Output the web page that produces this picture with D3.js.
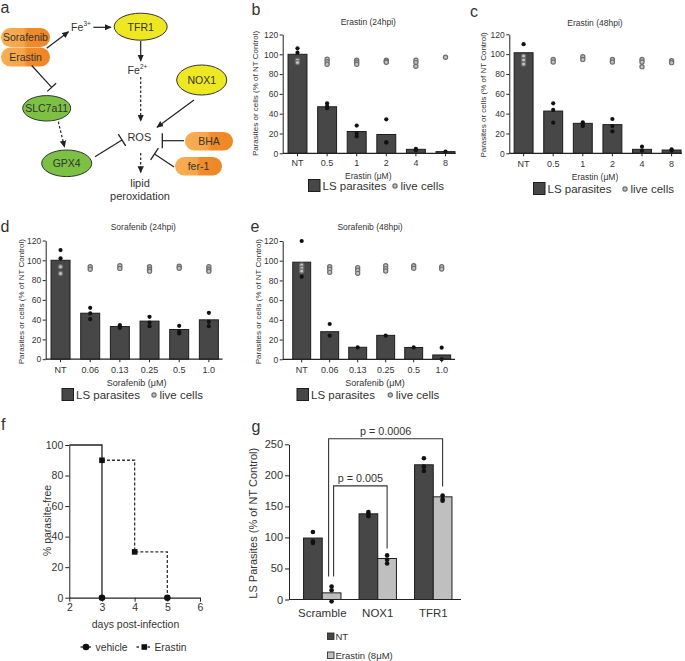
<!DOCTYPE html>
<html><head><meta charset="utf-8">
<script src="https://cdn.jsdelivr.net/npm/d3@7"></script>
<style>
html,body{margin:0;padding:0;background:#fff;}
svg{display:block;}
text{font-family:"Liberation Sans",Arial,Helvetica,sans-serif;fill:#333;}
</style></head><body>
<svg id="fig" width="685" height="661"></svg>
<script>
// ================= DATA =================
const erastinDoses = ["NT","0.5","1","2","4","8"];
const sorafenibDoses = ["NT","0.06","0.13","0.25","0.5","1.0"];
const yTicks120 = [0,20,40,60,80,100,120];

const erastin24Mean = [100,47,22,19,4,1.7];
const erastin24Parasites = [[106,101.6],[50.5,47.8,45.5],[28,20,17],[34.3,11,11],[4.6,3],[1.7]];
const erastin24Live = [[94,91.6],[95,92.5,90],[94,92,90],[94,92.5,92],[94,91.6,88],[97]];

const erastin48Mean = [101.4,42.6,30.2,28.9,4,3.3];
const erastin48Parasites = [[110],[50.4,43.7,30.9],[31.2,29.5,27.5],[34.6,27.5,22.2],[6.7,2.6],[4,2.6]];
const erastin48Live = [[98,94,90],[94.7,92],[97.4,94.7],[94.7,92],[94.7,92,87.4],[93.4,91.4]];

const sorafenib24Mean = [100,46.5,33,38.5,30,39.8];
const sorafenib24Parasites = [[110.3,101.9],[51.9,46.3,40.5],[34.4,31.7],[42.8,37.1,33.4],[33.7,27.6,26],[46.9,37.8,33.4]];
const sorafenib24Live = [[93.4,86.7],[93.4,91],[94.4,91.8],[93.4,91,89],[94,92],[93.4,91,89]];

const sorafenib48Mean = [98.5,28,12.2,24.3,12,4.4];
const sorafenib48Parasites = [[120,83.8],[35.8,24],[12],[24],[12],[11.8,0]];
const sorafenib48Live = [[95.6,92.3,89.5],[94,91.3,88.2],[93,90.3,87.2],[95,92,89.6],[95,92.3],[94,91.5]];

// panel f (survival)
const survivalXTicks = [2,3,4,5,6];
const survivalYTicks = [0,20,40,60,80,100];
const vehicleCurve = [[2,100],[3,100],[3,0]];
const vehicleMarks = [[3,0],[5,0]];
const erastinCurve = [[3,90],[4,90],[4,30],[5,30],[5,0]];
const erastinMarks = [[3,90],[4,30]];

// panel g (knockdown)
const knockdowns = ["Scramble","NOX1","TFR1"];
const gTicks = [0,50,100,150,200,250];
const ntMean = [99,138,217];
const ntPoints = [[108.7,93.6,91],[141,138,134],[227.5,214,207]];
const erMean = [10.7,66,165.4];
const erPoints = [[21,15,-3],[71,64,58],[167.5,162,159]];
const pLabels = ["p = 0.005","p = 0.0006"];

// ================= DRAW =================
const svg = d3.select("#fig");
const FONT = '"Liberation Sans",Arial,Helvetica,sans-serif';
const INK = "#222";
const DARK = "#474747", LIGHT = "#bfbfbf";
const LIVE_FILL = "#c2c2c2", LIVE_STROKE = "#6e6e6e";

function styleAxis(sel, fs) {
  sel.attr("font-family", FONT).attr("font-size", fs);
  sel.selectAll("path.domain").attr("stroke", INK).attr("stroke-width", 1);
  sel.selectAll(".tick line").attr("stroke", INK).attr("stroke-width", 1);
  sel.selectAll(".tick text").attr("fill", "#333");
}
function txt(x, y, s, fs, anchor) {
  return svg.append("text").attr("x", x).attr("y", y).attr("font-size", fs)
    .attr("text-anchor", anchor || "start").text(s);
}

// Panel letters
[["a",0.5,13],["b",251.5,15],["c",470,17],["d",0.5,232],["e",250.5,232],["f",1,430],["g",251.5,432]]
  .forEach(([l,x,y]) => txt(x, y, l, 16).attr("fill","#222"));

// ----- bar panels b-e -----
function barPanel(c) {
  const g = svg.append("g");
  const x = d3.scaleBand().domain(c.cats).range(c.xr).paddingInner(0.36).paddingOuter(0.18);
  const y = d3.scaleLinear().domain([0,120]).range(c.yr);
  const cx = i => x(c.cats[i]) + x.bandwidth()/2;
  g.selectAll("rect.bar").data(c.mean).join("rect").attr("class","bar")
    .attr("x",(d,i)=>x(c.cats[i])).attr("width",x.bandwidth())
    .attr("y",d=>y(d)).attr("height",d=>y(0)-y(d))
    .attr("fill",DARK).attr("stroke","#1e1e1e").attr("stroke-width",1);
  const live = c.live.flatMap((a,i)=>a.map(v=>({i,v})));
  const par = c.par.flatMap((a,i)=>a.map(v=>({i,v})));
  g.selectAll("circle.par").data(par).join("circle").attr("class","par")
    .attr("cx",d=>cx(d.i)).attr("cy",d=>y(d.v)).attr("r",2.1).attr("fill","#111");
  g.selectAll("circle.live").data(live).join("circle").attr("class","live")
    .attr("cx",d=>cx(d.i)).attr("cy",d=>y(d.v)).attr("r",2.1)
    .attr("fill",LIVE_FILL).attr("stroke",LIVE_STROKE).attr("stroke-width",1.2);
  // y axis
  const ya = g.append("g").attr("transform",`translate(${c.axisX},0)`)
    .call(d3.axisLeft(y).tickValues(yTicks120).tickSize(3).tickSizeOuter(0).tickPadding(1.5));
  styleAxis(ya, 8.5);
  // x axis
  const xa = g.append("g").attr("transform",`translate(0,${y(0)})`)
    .call(d3.axisBottom(x).tickSize(3).tickSizeOuter(0).tickPadding(c.xpad));
  styleAxis(xa, 9);
  xa.select("path.domain").remove();
  g.append("line").attr("x1",c.axisX).attr("x2",c.axisEnd).attr("y1",y(0)).attr("y2",y(0))
    .attr("stroke",INK).attr("stroke-width",1.2);
  // title, labels
  txt(c.title[1], c.title[2], c.title[0], 8.5, "middle");
  txt(c.xl[1], c.xl[2], c.xl[0], c.xl[3], "middle");
  svg.append("text").attr("transform",`translate(${c.yl[0]},${c.yl[1]}) rotate(-90)`)
    .attr("text-anchor","middle").attr("dy","0.35em").attr("font-size",8).text("Parasites or cells (% of NT Control)");
  // legend
  const L = c.leg;
  g.append("rect").attr("x",L[0]).attr("y",L[1]).attr("width",11.5).attr("height",12)
    .attr("fill",DARK).attr("stroke","#1e1e1e").attr("stroke-width",1);
  txt(L[0]+14, L[1]+10.5, "LS parasites", 11.5);
  g.append("circle").attr("cx",L[2]).attr("cy",L[1]+6.5).attr("r",2.1)
    .attr("fill",LIVE_FILL).attr("stroke",LIVE_STROKE).attr("stroke-width",1.2);
  txt(L[2]+5.5, L[1]+10.5, "live cells", 11.5);
}

barPanel({cats:erastinDoses, mean:erastin24Mean, par:erastin24Parasites, live:erastin24Live,
  xr:[282.7,460.3], yr:[153.3,34.5], axisX:282.7, axisEnd:455.5, xpad:3.5,
  title:["Erastin (24hpi)",368.3,25], xl:["Erastin (\u03bcM)",368.3,178.5,8.5], yl:[255,93.5], leg:[308.5,179.5,395]});
barPanel({cats:erastinDoses, mean:erastin48Mean, par:erastin48Parasites, live:erastin48Live,
  xr:[508.8,686.4], yr:[153.3,34.3], axisX:509.3, axisEnd:682, xpad:4,
  title:["Erastin (48hpi)",595,26], xl:["Erastin (\u03bcM)",595,180,8.5], yl:[482.7,95], leg:[533.5,182.5,625]});
barPanel({cats:sorafenibDoses, mean:sorafenib24Mean, par:sorafenib24Parasites, live:sorafenib24Live,
  xr:[45.7,223.7], yr:[359.2,240.5], axisX:45.7, axisEnd:222.5, xpad:4.5,
  title:["Sorafenib (24hpi)",143.3,230], xl:["Sorafenib (\u03bcM)",136.7,385.5,9], yl:[20.7,301.7], leg:[62,388.5,154]});
barPanel({cats:sorafenibDoses, mean:sorafenib48Mean, par:sorafenib48Parasites, live:sorafenib48Live,
  xr:[287.7,455.7], yr:[359.3,241], axisX:282.7, axisEnd:455, xpad:4.5,
  title:["Sorafenib (48hpi)",370,230], xl:["Sorafenib (\u03bcM)",375,385.5,9], yl:[257.7,301.7], leg:[297,388.5,390.3]});

// ----- panel f -----
(function(){
  const g = svg.append("g");
  const x = d3.scaleLinear().domain([2,6]).range([69.3,200]);
  const y = d3.scaleLinear().domain([0,100]).range([597.7,445]);
  const line = d3.line().x(d=>x(d[0])).y(d=>y(d[1]));
  const xa = g.append("g").attr("transform",`translate(0,${y(0)})`)
    .call(d3.axisBottom(x).tickValues(survivalXTicks).tickFormat(d3.format("d")).tickSize(4).tickSizeOuter(0).tickPadding(2));
  styleAxis(xa, 10.5);
  xa.select("path.domain").attr("stroke-width",1.3);
  const ya = g.append("g").attr("transform",`translate(${x(2)},0)`)
    .call(d3.axisLeft(y).tickValues(survivalYTicks).tickFormat(d3.format("d")).tickSize(4).tickSizeOuter(0).tickPadding(2));
  styleAxis(ya, 10.5);
  g.append("path").attr("d",line(vehicleCurve)).attr("fill","none").attr("stroke",INK).attr("stroke-width",1.3);
  g.append("path").attr("d",line(erastinCurve)).attr("fill","none").attr("stroke","#333")
    .attr("stroke-width",1.3).attr("stroke-dasharray","3,2");
  g.selectAll("circle.vm").data(vehicleMarks).join("circle").attr("cx",d=>x(d[0])).attr("cy",d=>y(d[1]))
    .attr("r",3.3).attr("fill","#111");
  g.selectAll("rect.em").data(erastinMarks).join("rect").attr("x",d=>x(d[0])-2.8).attr("y",d=>y(d[1])-2.8)
    .attr("width",5.6).attr("height",5.6).attr("fill","#111");
  txt(135.5, 628, "days post-infection", 10.5, "middle");
  svg.append("text").attr("transform","translate(47,520.5) rotate(-90)").attr("text-anchor","middle")
    .attr("dy","0.35em").attr("font-size",10.5).text("% parasite-free");
  // legend
  g.append("line").attr("x1",80.5).attr("x2",91).attr("y1",647).attr("y2",647).attr("stroke",INK).attr("stroke-width",1.3);
  g.append("circle").attr("cx",86).attr("cy",647).attr("r",3.3).attr("fill","#111");
  txt(95.5, 650.5, "vehicle", 10.3);
  g.append("line").attr("x1",136.5).attr("x2",152).attr("y1",647).attr("y2",647).attr("stroke","#333")
    .attr("stroke-width",1.3).attr("stroke-dasharray","2.5,3");
  g.append("rect").attr("x",141.5).attr("y",644.2).attr("width",5.6).attr("height",5.6).attr("fill","#111");
  txt(154.5, 650.5, "Erastin", 10.3);
})();

// ----- panel g -----
(function(){
  const g = svg.append("g");
  const x = d3.scaleBand().domain(knockdowns).range([294.5,461]).paddingInner(0.326).paddingOuter(0.163);
  const sub = d3.scaleBand().domain(["NT","Erastin"]).range([0,x.bandwidth()]);
  const y = d3.scaleLinear().domain([0,250]).range([599.5,444.3]);
  const groups = [["NT",ntMean,ntPoints,DARK],["Erastin",erMean,erPoints,LIGHT]];
  groups.forEach(([k,means,pts,col])=>{
    g.selectAll(null).data(means).join("rect")
      .attr("x",(d,i)=>x(knockdowns[i])+sub(k)).attr("width",sub.bandwidth())
      .attr("y",d=>y(d)).attr("height",d=>y(0)-y(d))
      .attr("fill",col).attr("stroke","#1e1e1e").attr("stroke-width",1);
    const flat = pts.flatMap((a,i)=>a.map(v=>({i,v})));
    g.selectAll(null).data(flat).join("circle")
      .attr("cx",d=>x(knockdowns[d.i])+sub(k)+sub.bandwidth()/2).attr("cy",d=>y(d.v))
      .attr("r",2.3).attr("fill","#111");
  });
  const ya = g.append("g").attr("transform",`translate(289,0)`)
    .call(d3.axisLeft(y).tickValues(gTicks).tickSize(4).tickSizeOuter(0).tickPadding(2));
  styleAxis(ya, 11);
  const xa = g.append("g").attr("transform",`translate(0,${y(0)})`)
    .call(d3.axisBottom(x).tickSize(0).tickPadding(9.5));
  styleAxis(xa, 11.5);
  xa.select("path.domain").remove();
  g.append("line").attr("x1",289).attr("x2",461).attr("y1",y(0)).attr("y2",y(0)).attr("stroke",INK).attr("stroke-width",1.2);
  svg.append("text").attr("transform","translate(253.3,523.3) rotate(-90)").attr("text-anchor","middle")
    .attr("dy","0.35em").attr("font-size",11).text("LS Parasites (% of NT Control)");
  // significance brackets
  const ec = i => x(knockdowns[i]) + sub("Erastin") + sub.bandwidth()/2;
  const brackets = [
    {x1: ec(0)+2, x2: ec(1), top: 183, b1: 37, b2: 82, label: pLabels[0]},
    {x1: ec(0)-3, x2: ec(2), top: 259, b1: 37, b2: 182, label: pLabels[1]}
  ];
  brackets.forEach(b=>{
    g.append("path").attr("d",`M${b.x1},${y(b.b1)}V${y(b.top)}H${b.x2}V${y(b.b2)}`)
      .attr("fill","none").attr("stroke","#333").attr("stroke-width",1.1);
    txt((b.x1+b.x2)/2, y(b.top)-3.5, b.label, 10.8, "middle");
  });
  // legend
  g.append("rect").attr("x",327.5).attr("y",633).attr("width",6.5).attr("height",6.5).attr("fill",DARK).attr("stroke","#1e1e1e").attr("stroke-width",0.8);
  txt(335.5, 640, "NT", 9.5);
  g.append("rect").attr("x",327.5).attr("y",652).attr("width",6.5).attr("height",6.5).attr("fill",LIGHT).attr("stroke","#1e1e1e").attr("stroke-width",0.8);
  txt(335.5, 659, "Erastin (8\u03bcM)", 9.5);
})();

// ----- panel a (pathway diagram) -----
(function(){
  const defs = svg.append("defs");
  defs.append("marker").attr("id","arr").attr("viewBox","0 0 10 10").attr("refX",9).attr("refY",5)
    .attr("markerWidth",7).attr("markerHeight",7).attr("markerUnits","userSpaceOnUse").attr("orient","auto")
    .append("path").attr("d","M0,0.5 L10,5 L0,9.5 Z").attr("fill",INK);
  const gr = defs.append("linearGradient").attr("id","pill").attr("x1","0").attr("x2","1");
  [["0","#F8AE54"],["0.46","#F6A548"],["0.54","#F08B2B"],["1","#EE8726"]]
    .forEach(([o,c])=>gr.append("stop").attr("offset",o).attr("stop-color",c));
  const g = svg.append("g");
  const pills = [["Sorafenib",1,28,49,19],["Erastin",1,47.5,49,19],["BHA",185,132,48,18.5],["fer-1",175,157,47,18.5]];
  pills.forEach(([t,x,y,w,h])=>{
    g.append("rect").attr("x",x).attr("y",y).attr("width",w).attr("height",h).attr("rx",h/2).attr("fill","url(#pill)");
    txt(x+w/2, y+h/2+3.8, t, 10.5, "middle");
  });
  const ells = [["TFR1",140.7,26.7,26.5,13.5,"#EEE822"],["NOX1",201.7,80,25,15,"#EEE822"],
                ["SLC7a11",46.7,108.3,24,12.7,"#7CC143"],["GPX4",66.7,163.3,25,13.3,"#7CC143"]];
  ells.forEach(([t,cx,cy,rx,ry,f])=>{
    g.append("ellipse").attr("cx",cx).attr("cy",cy).attr("rx",rx).attr("ry",ry).attr("fill",f)
      .attr("stroke","#333").attr("stroke-width",1);
    txt(cx, cy+3.8, t, 10.5, "middle");
  });
  const arrow = (x1,y1,x2,y2,dash) => g.append("line").attr("x1",x1).attr("y1",y1).attr("x2",x2).attr("y2",y2)
    .attr("stroke",INK).attr("stroke-width",1.2).attr("stroke-dasharray",dash||null).attr("marker-end","url(#arr)");
  arrow(46.7,48.3,68.5,31.7);
  arrow(93.3,27.3,111,27.3);
  arrow(140.7,41,140.7,61);
  arrow(140.7,77,140.7,121,"2.5,2");
  arrow(194,100,157,127.3);
  arrow(58.3,121.7,64.5,147,"2.5,2");
  arrow(140.7,153,140.7,172.5,"2.5,2");
  const inhibit = (x1,y1,x2,y2,h) => {
    g.append("line").attr("x1",x1).attr("y1",y1).attr("x2",x2).attr("y2",y2).attr("stroke",INK).attr("stroke-width",1.2);
    const dx=x2-x1, dy=y2-y1, L=Math.hypot(dx,dy), px=-dy/L*h, py=dx/L*h;
    g.append("line").attr("x1",x2+px).attr("y1",y2+py).attr("x2",x2-px).attr("y2",y2-py).attr("stroke",INK).attr("stroke-width",1.3);
  };
  inhibit(31.7,65.5,51.7,87.3,6);
  inhibit(95,156.7,122,140,7);
  inhibit(184,140.7,162.3,140.7,7.5);
  inhibit(174,167,154.5,154,7);
  // text labels
  txt(71, 31, "Fe", 10.5); txt(83.5, 25.5, "3+", 6.5);
  txt(127.5, 74, "Fe", 10.5); txt(140, 68.5, "2+", 6.5);
  txt(139.3, 140.5, "ROS", 11, "middle");
  txt(140, 186.5, "lipid", 11, "middle");
  txt(140, 199.5, "peroxidation", 11, "middle");
})();
</script>
</body></html>
